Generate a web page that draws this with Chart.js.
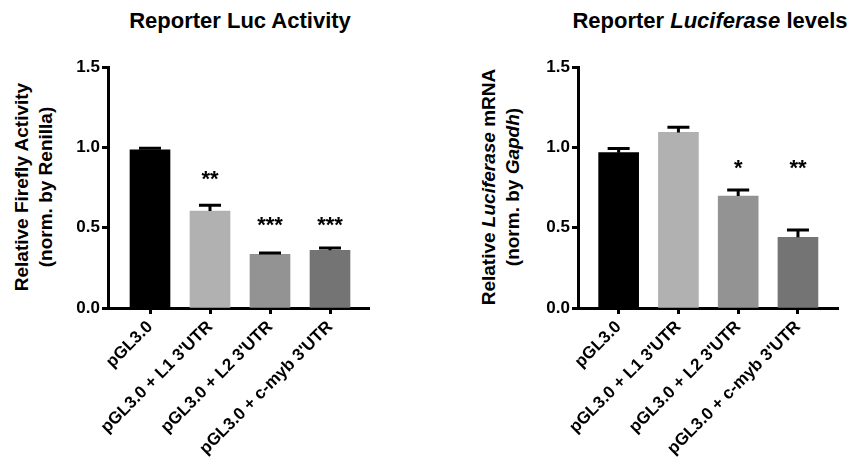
<!DOCTYPE html>
<html>
<head>
<meta charset="utf-8">
<script src="https://cdn.jsdelivr.net/npm/chart.js@4/dist/chart.umd.min.js"></script>
<style>
  body { margin: 0; background: #fff; }
  #wrap { position: relative; width: 853px; height: 468px; overflow: hidden; font-family: 'Liberation Sans', Arial, sans-serif; color: #000; }
  canvas { position: absolute; top: 0; }
  .title { position: absolute; top: 9px; font-size: 22px; font-weight: bold; line-height: 24px; white-space: nowrap; transform: translateX(-50%); }
  .ytitle { position: absolute; width: 260px; text-align: center; font-size: 19px; font-weight: bold; line-height: 24px; white-space: nowrap; transform: translate(-50%, -50%) rotate(-90deg); }
</style>
</head>
<body>
<div id="wrap">
  <div class="title" style="left:240px">Reporter Luc Activity</div>
  <div class="title" style="left:710px">Reporter <i>Luciferase</i> levels</div>
  <div class="ytitle" style="left:34px; top:187px">Relative Firefly Activity<br>(norm. by Renilla)</div>
  <div class="ytitle" style="left:501px; top:187px">Relative <i>Luciferase</i> mRNA<br>(norm. by <i>Gapdh</i>)</div>
  <canvas id="lucChart" width="320" height="468" style="left:58px"></canvas>
  <canvas id="mrnaChart" width="319" height="468" style="left:528px"></canvas>
</div>
<script>
'use strict';

const groups = ['pGL3.0', "pGL3.0 + L1 3'UTR", "pGL3.0 + L2 3'UTR", "pGL3.0 + c-myb 3'UTR"];
const barColors = ['#000000', '#b1b1b1', '#939393', '#747474'];
const yTicks = [0, 0.5, 1.0, 1.5];

// reporter luc activity (firefly / renilla)
const lucMean = [0.985, 0.604, 0.334, 0.359];
const lucSem = [0.009, 0.035, 0.008, 0.014];
const lucStars = ['', '**', '***', '***'];
const lucStarLevel = [null, 0.84, 0.552, 0.552];

// luciferase mRNA (by gapdh)
const mrnaMean = [0.967, 1.093, 0.697, 0.440];
const mrnaSem = [0.025, 0.032, 0.037, 0.045];
const mrnaStars = ['', '', '*', '**'];
const mrnaStarLevel = [null, null, 0.91, 0.91];

Chart.defaults.font.family = "'Liberation Sans', Arial, sans-serif";
Chart.defaults.color = '#000';

function errorBars(mean, sem, stars, starLevel) {
    return {
        id: 'errorBars',
        afterDatasetsDraw(chart) {
            const ctx = chart.ctx;
            const y = chart.scales.y;
            const bars = chart.getDatasetMeta(0).data;
            ctx.save();
            ctx.strokeStyle = '#000';
            ctx.lineWidth = 3;
            bars.forEach((bar, i) => {
                const top = y.getPixelForValue(mean[i] + sem[i]);
                ctx.beginPath();
                ctx.moveTo(bar.x, bar.y);
                ctx.lineTo(bar.x, top);
                ctx.moveTo(bar.x - 11, top);
                ctx.lineTo(bar.x + 11, top);
                ctx.stroke();
                if (stars[i]) {
                    ctx.fillStyle = '#000';
                    ctx.font = "bold 22px 'Liberation Sans', Arial, sans-serif";
                    ctx.textAlign = 'center';
                    ctx.textBaseline = 'alphabetic';
                    ctx.fillText(stars[i], bar.x, y.getPixelForValue(starLevel[i]) + 13);
                }
            });
            ctx.restore();
        }
    };
}

function drawPanel(id, mean, sem, stars, starLevel, xMin, xMax) {
    const line = { display: true, drawOnChartArea: false, offset: false, tickLength: 6, tickWidth: 3, color: '#000', tickColor: '#000' };
    return new Chart(document.getElementById(id), {
        type: 'bar',
        data: {
            datasets: [{
                data: mean.map((v, i) => ({ x: i, y: v })),
                backgroundColor: barColors,
                barThickness: 40
            }]
        },
        options: {
            responsive: false,
            animation: false,
            layout: { padding: { top: 67, right: 9, bottom: 0, left: 0 } },
            plugins: { legend: { display: false }, tooltip: { enabled: false } },
            scales: {
                x: {
                    type: 'linear',
                    min: xMin,
                    max: xMax,
                    offset: false,
                    z: 1,
                    afterBuildTicks: (s) => { s.ticks = groups.map((g, i) => ({ value: i })); },
                    afterFit: (s) => { s.height = 160; s.paddingLeft = 0; s.paddingRight = 0; },
                    grid: line,
                    border: { display: true, color: '#000', width: 3 },
                    ticks: {
                        autoSkip: false,
                        minRotation: 45,
                        maxRotation: 45,
                        padding: 3,
                        font: { size: 17, weight: 'bold' },
                        callback: (v) => groups[v]
                    }
                },
                y: {
                    min: 0,
                    max: 1.5,
                    afterBuildTicks: (s) => { s.ticks = yTicks.map((v) => ({ value: v })); },
                    afterFit: (s) => { s.width = 50; },
                    grid: line,
                    border: { display: true, color: '#000', width: 3 },
                    ticks: {
                        padding: 2,
                        font: { size: 17, weight: 'bold' },
                        callback: (v) => v.toFixed(1)
                    }
                }
            }
        },
        plugins: [errorBars(mean, sem, stars, starLevel)]
    });
}

drawPanel('lucChart', lucMean, lucSem, lucStars, lucStarLevel, -0.7, 3.65);
drawPanel('mrnaChart', mrnaMean, mrnaSem, mrnaStars, mrnaStarLevel, -0.68, 3.67);
</script>
</body>
</html>
